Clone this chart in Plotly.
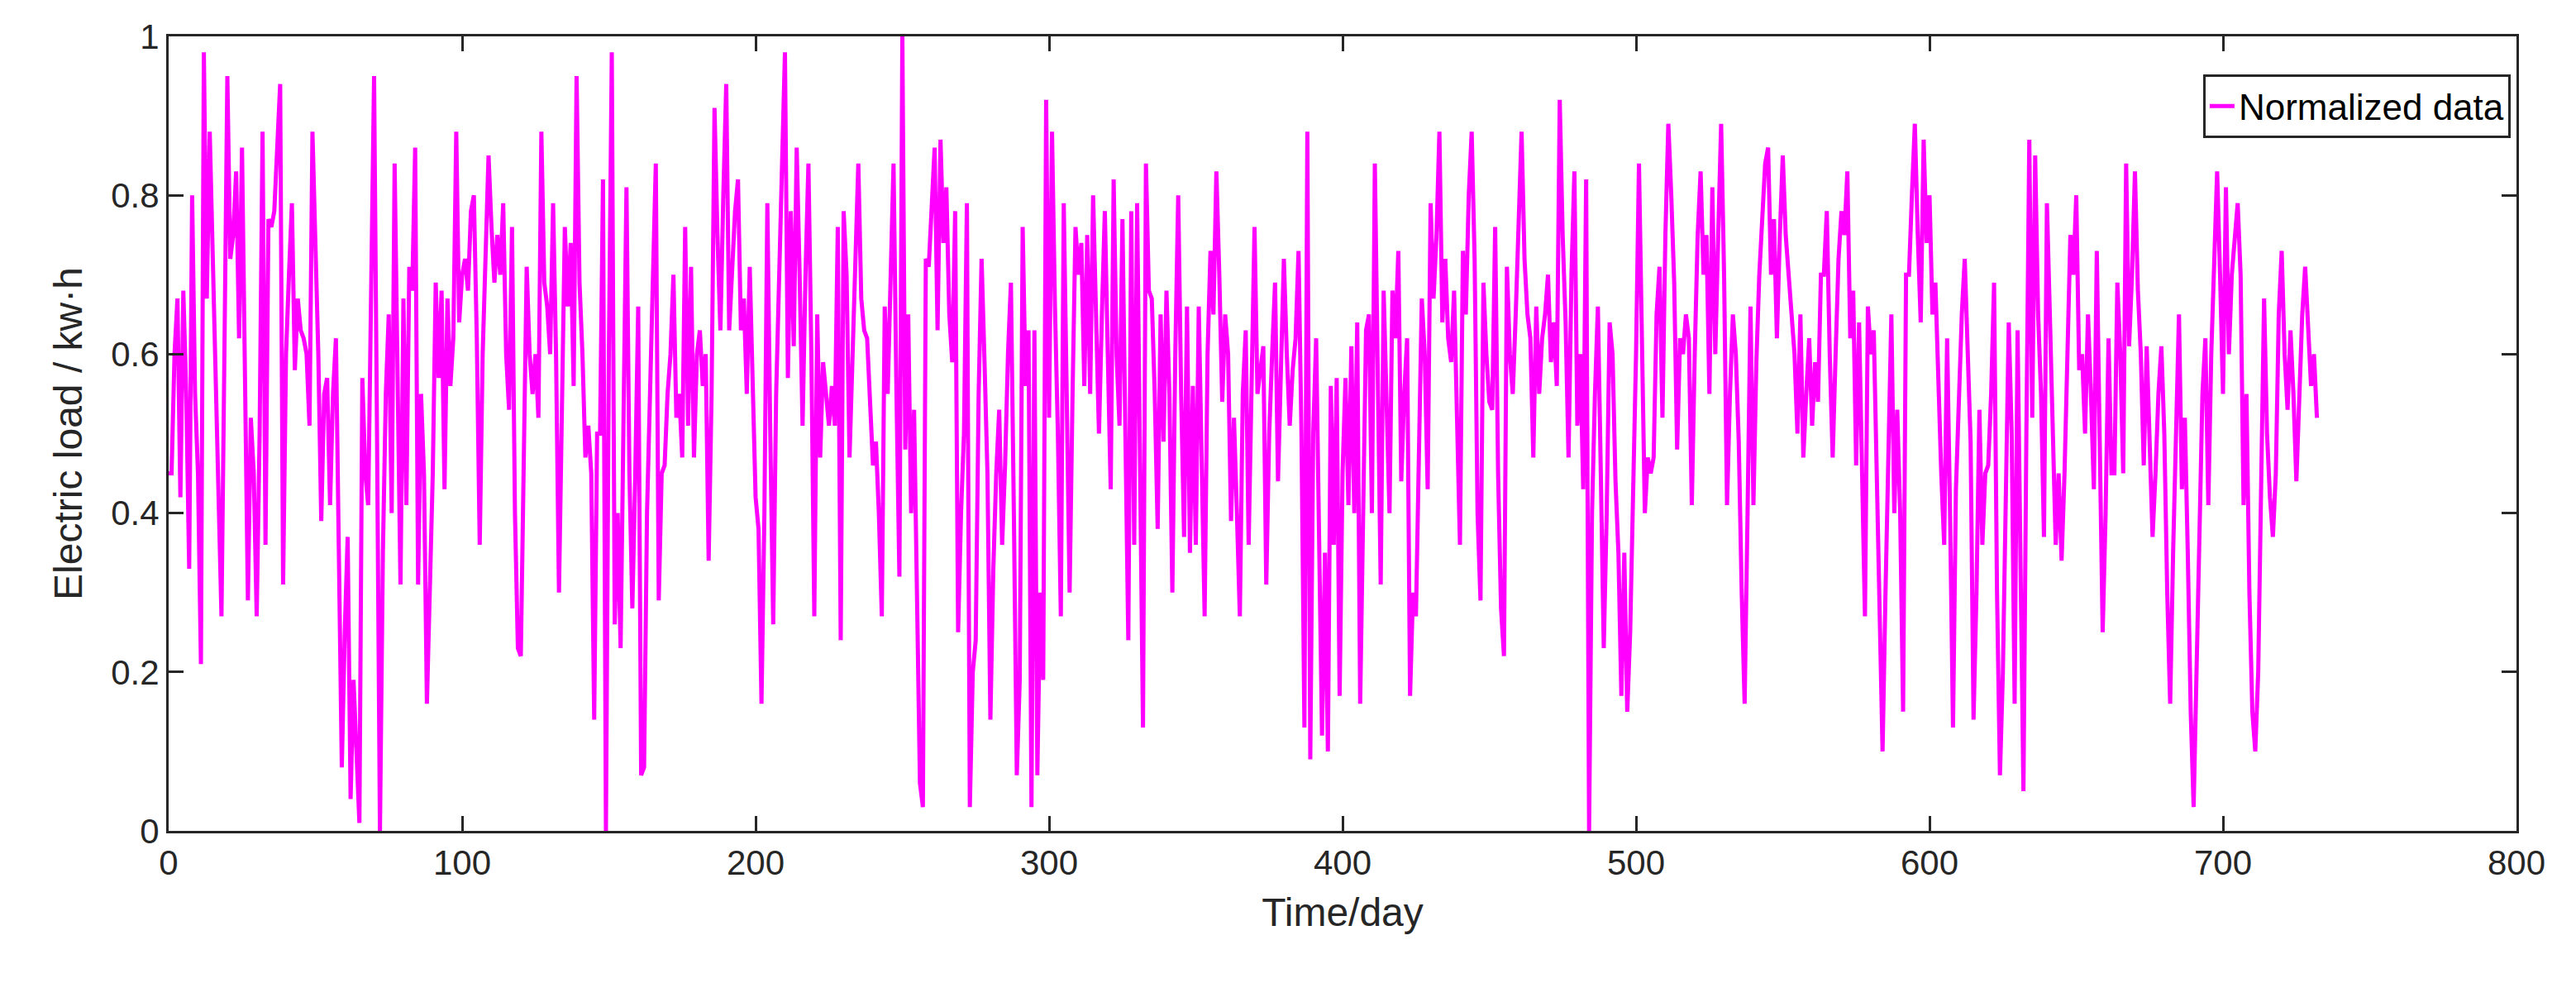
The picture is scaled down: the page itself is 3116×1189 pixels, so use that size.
import plotly.graph_objects as go

load_0_59 = [0.45,0.45,0.60,0.67,0.42,0.68,0.55,0.33,0.80,0.55,0.45,0.21,0.98,0.67,0.88,0.72,0.60,0.45,0.27,0.60,
             0.95,0.72,0.75,0.83,0.62,0.86,0.60,0.29,0.52,0.45,0.27,0.50,0.88,0.36,0.77,0.76,0.78,0.85,0.94,0.31,
             0.60,0.70,0.79,0.58,0.67,0.63,0.62,0.60,0.51,0.88,0.75,0.60,0.39,0.55,0.57,0.41,0.55,0.62,0.35,0.08]
load_60_119 = [0.25,0.37,0.04,0.19,0.10,0.01,0.57,0.45,0.41,0.70,0.95,0.50,0.00,0.35,0.55,0.65,0.40,0.84,0.60,0.31,
               0.67,0.41,0.71,0.68,0.86,0.31,0.55,0.45,0.16,0.30,0.45,0.69,0.57,0.68,0.43,0.67,0.56,0.62,0.88,0.64,
               0.70,0.72,0.68,0.78,0.80,0.62,0.36,0.60,0.75,0.85,0.76,0.69,0.75,0.70,0.79,0.60,0.53,0.76,0.40,0.23]
load_120_178 = [0.22,0.45,0.71,0.60,0.55,0.60,0.52,0.88,0.69,0.66,0.60,0.79,0.60,0.30,0.55,0.76,0.66,0.74,0.56,0.95,
                0.69,0.60,0.47,0.51,0.45,0.14,0.50,0.50,0.82,0.00,0.60,0.98,0.26,0.40,0.23,0.50,0.81,0.45,0.28,0.45,
                0.66,0.07,0.08,0.40,0.55,0.70,0.84,0.29,0.45,0.46,0.55,0.60,0.70,0.52,0.55,0.47,0.76,0.51,0.71]
load_179_237 = [0.47,0.60,0.63,0.56,0.60,0.34,0.55,0.91,0.75,0.63,0.80,0.94,0.63,0.70,0.78,0.82,0.63,0.67,0.55,0.71,
                0.55,0.42,0.38,0.16,0.40,0.79,0.50,0.26,0.55,0.70,0.85,0.98,0.57,0.78,0.61,0.86,0.70,0.51,0.70,0.84,
                0.60,0.27,0.65,0.47,0.59,0.55,0.51,0.56,0.51,0.76,0.24,0.78,0.70,0.47,0.60,0.75,0.84,0.67,0.63]
load_238_296 = [0.62,0.55,0.46,0.49,0.40,0.27,0.66,0.55,0.70,0.84,0.55,0.32,1.00,0.48,0.65,0.40,0.53,0.25,0.06,0.03,
                0.72,0.71,0.80,0.86,0.63,0.87,0.74,0.81,0.65,0.59,0.78,0.25,0.40,0.50,0.79,0.03,0.20,0.24,0.55,0.72,
                0.59,0.45,0.14,0.33,0.45,0.53,0.36,0.46,0.60,0.69,0.40,0.07,0.19,0.76,0.56,0.63,0.03,0.63,0.07]
load_297_355 = [0.30,0.19,0.92,0.52,0.88,0.66,0.50,0.27,0.79,0.55,0.30,0.55,0.76,0.70,0.74,0.56,0.75,0.55,0.80,0.65,
                0.50,0.65,0.78,0.60,0.43,0.82,0.60,0.51,0.77,0.50,0.24,0.78,0.36,0.79,0.40,0.13,0.84,0.68,0.67,0.55,
                0.38,0.65,0.49,0.68,0.55,0.30,0.60,0.80,0.55,0.37,0.66,0.35,0.56,0.36,0.66,0.45,0.27,0.60,0.73]
load_356_414 = [0.65,0.83,0.70,0.54,0.65,0.60,0.39,0.52,0.40,0.27,0.55,0.63,0.36,0.60,0.76,0.55,0.58,0.61,0.31,0.50,
                0.60,0.69,0.44,0.60,0.72,0.60,0.51,0.58,0.62,0.73,0.50,0.13,0.88,0.09,0.50,0.62,0.35,0.12,0.35,0.10,
                0.56,0.36,0.57,0.17,0.45,0.57,0.41,0.61,0.40,0.64,0.16,0.40,0.63,0.65,0.40,0.84,0.60,0.31,0.68]
load_415_473 = [0.55,0.40,0.68,0.62,0.73,0.44,0.55,0.62,0.17,0.30,0.27,0.45,0.67,0.60,0.43,0.79,0.67,0.75,0.88,0.64,
                0.72,0.62,0.59,0.68,0.50,0.36,0.73,0.65,0.80,0.88,0.72,0.40,0.29,0.69,0.60,0.54,0.53,0.76,0.45,0.28,
                0.22,0.71,0.60,0.55,0.65,0.75,0.88,0.72,0.65,0.62,0.47,0.66,0.55,0.62,0.65,0.70,0.59,0.64,0.56]
load_474_533 = [0.92,0.75,0.64,0.47,0.70,0.83,0.51,0.60,0.43,0.82,0.00,0.40,0.55,0.66,0.45,0.23,0.40,0.64,0.60,0.44,
                0.35,0.17,0.35,0.15,0.25,0.42,0.60,0.84,0.60,0.40,0.47,0.45,0.47,0.65,0.71,0.52,0.75,0.89,0.80,0.69,
                0.48,0.62,0.60,0.65,0.62,0.41,0.60,0.75,0.83,0.70,0.75,0.55,0.81,0.60,0.75,0.89,0.70,0.41,0.55,0.65]
load_534_592 = [0.60,0.49,0.30,0.16,0.40,0.66,0.41,0.59,0.70,0.78,0.84,0.86,0.70,0.77,0.62,0.75,0.85,0.75,0.69,0.65,
                0.60,0.50,0.65,0.47,0.55,0.62,0.51,0.59,0.54,0.70,0.70,0.78,0.60,0.47,0.60,0.72,0.78,0.75,0.83,0.62,
                0.68,0.46,0.64,0.45,0.27,0.66,0.60,0.63,0.45,0.30,0.10,0.30,0.50,0.65,0.40,0.53,0.40,0.15,0.70]
load_593_651 = [0.70,0.80,0.89,0.75,0.64,0.87,0.74,0.80,0.65,0.69,0.55,0.45,0.36,0.62,0.40,0.13,0.43,0.55,0.65,0.72,
                0.60,0.49,0.14,0.30,0.53,0.36,0.45,0.46,0.55,0.69,0.30,0.07,0.20,0.45,0.64,0.50,0.16,0.63,0.30,0.05,
                0.50,0.87,0.52,0.85,0.65,0.55,0.37,0.79,0.65,0.50,0.36,0.45,0.34,0.45,0.60,0.75,0.70,0.80,0.58]
load_652_705 = [0.60,0.50,0.65,0.55,0.43,0.73,0.45,0.25,0.40,0.62,0.45,0.45,0.69,0.60,0.45,0.84,0.61,0.70,0.83,0.68,
                0.60,0.46,0.61,0.50,0.37,0.45,0.55,0.61,0.50,0.30,0.16,0.35,0.50,0.65,0.43,0.52,0.35,0.15,0.03,0.20,
                0.42,0.55,0.62,0.41,0.60,0.72,0.83,0.70,0.55,0.81,0.60,0.70,0.75,0.79]
load_706_732 = [0.70,0.41,0.55,0.30,0.15,0.10,0.20,0.45,0.67,0.50,0.42,0.37,0.45,0.65,0.73,0.60,0.53,0.63,0.55,0.44,
                0.55,0.65,0.71,0.62,0.56,0.60,0.52]

load = (load_0_59 + load_60_119 + load_120_178 + load_179_237 + load_238_296 + load_297_355 +
        load_356_414 + load_415_473 + load_474_533 + load_534_592 + load_593_651 + load_652_705 + load_706_732)
days = list(range(len(load)))

x_ticks = [0, 100, 200, 300, 400, 500, 600, 700, 800]
y_ticks = [0, 0.2, 0.4, 0.6, 0.8, 1]
y_tick_labels = ["0", "0.2", "0.4", "0.6", "0.8", "1"]

font = "Liberation Sans, Arial, sans-serif"
axcol = "#262626"

fig = go.Figure(go.Scatter(x=days, y=load, mode="lines", name="Normalized data",
                           line=dict(color="#FF00FF", width=5)))

axis_common = dict(showline=True, linecolor=axcol, linewidth=3, mirror="ticks",
                   ticks="inside", ticklen=18, tickwidth=3, tickcolor=axcol,
                   showgrid=False, zeroline=False,
                   tickfont=dict(family=font, size=42, color=axcol))
fig.update_xaxes(range=[0, 800], tickvals=x_ticks,
                 title=dict(text="Time/day", font=dict(family=font, size=48, color=axcol), standoff=20),
                 **axis_common)
fig.update_yaxes(range=[0, 1], tickvals=y_ticks, ticktext=y_tick_labels,
                 title=dict(text="Electric load / kw·h", font=dict(family=font, size=48, color=axcol), standoff=20),
                 **axis_common)

fig.update_layout(
    width=3116, height=1189,
    paper_bgcolor="white", plot_bgcolor="white",
    margin=dict(l=196, r=80, t=36, b=192),
    showlegend=True,
    legend=dict(x=0.9975, y=0.952, xanchor="right", yanchor="top",
                bgcolor="white", bordercolor=axcol, borderwidth=3,
                font=dict(family=font, size=44, color="black")),
)

fig.write_html("out.html")
